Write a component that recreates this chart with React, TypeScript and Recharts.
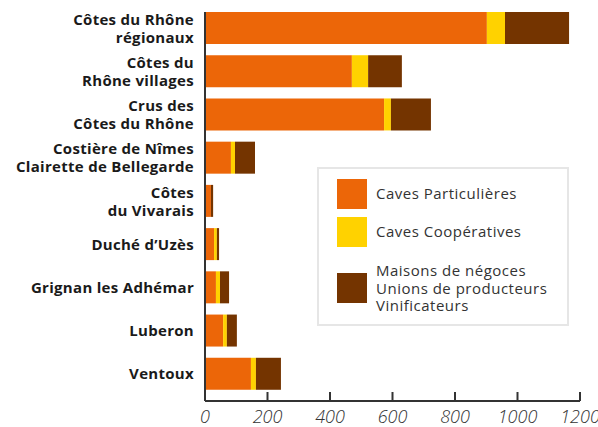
import { BarChart, Bar, XAxis, YAxis } from "recharts";

const categories = [
  "Côtes du Rhône\nrégionaux",
  "Côtes du\nRhône villages",
  "Crus des\nCôtes du Rhône",
  "Costière de Nîmes\nClairette de Bellegarde",
  "Côtes\ndu Vivarais",
  "Duché d’Uzès",
  "Grignan les Adhémar",
  "Luberon",
  "Ventoux",
];
const cavesParticulieres = [902, 470, 573, 83, 19, 29, 35, 58, 147];
const cavesCooperatives = [58, 52, 22, 13, 0, 9, 13, 12, 16];
const maisons = [205, 108, 128, 64, 7, 7, 29, 32, 80];
const xTicks = [0, 200, 400, 600, 800, 1000, 1200];

const data = categories.map((name, i) => ({
  name,
  particulieres: cavesParticulieres[i],
  cooperatives: cavesCooperatives[i],
  maisons: maisons[i],
}));

const ORANGE = "#EC6608";
const YELLOW = "#FFD200";
const BROWN = "#743400";

const legendItems = [
  { color: ORANGE, lines: ["Caves Particulières"] },
  { color: YELLOW, lines: ["Caves Coopératives"] },
  { color: BROWN, lines: ["Maisons de négoces", "Unions de producteurs", "Vinificateurs"] },
];

function CategoryTick(props: any) {
  const { x, y, payload } = props;
  const lines = String(payload.value).split("\n");
  const lh = 18;
  const start = y - ((lines.length - 1) * lh) / 2;
  return (
    <text
      x={x - 11}
      y={start}
      textAnchor="end"
      dominantBaseline="central"
      fill="#1a1a1a"
      fontSize={15}
      fontWeight={700}
      fontFamily="Open Sans"
      letterSpacing={0.3}
    >
      {lines.map((l, i) => (
        <tspan key={i} x={x - 11} y={start + i * lh}>
          {l}
        </tspan>
      ))}
    </text>
  );
}

function ValueTick(props: any) {
  const { x, y, payload } = props;
  return (
    <g>
      <line x1={x} y1={y - 9} x2={x} y2={y} stroke="#333" strokeWidth={2} />
      <text
        x={x}
        y={y + 22}
        textAnchor="middle"
        fill="#333"
        fontSize={18}
        fontStyle="italic"
        fontWeight={300}
        fontFamily="Open Sans"
      >
        {payload.value}
      </text>
    </g>
  );
}

function LegendBox() {
  const tops = [10, 48, 93];
  return (
    <div
      style={{
        position: "absolute",
        left: 317,
        top: 167,
        width: 252,
        height: 159,
        boxSizing: "border-box",
        border: "2px solid #e6e6e6",
        background: "#fff",
        fontFamily: "Open Sans",
        fontSize: 15,
        letterSpacing: 0.5,
        color: "#333",
      }}
    >
      {legendItems.map((item, i) => (
        <div key={i} style={{ position: "absolute", left: 18, top: tops[i], display: "flex", alignItems: "center" }}>
          <div style={{ width: 30, height: 30, background: item.color, flexShrink: 0 }} />
          <div style={{ marginLeft: 9, lineHeight: "17.5px" }}>
            {item.lines.map((l, j) => (
              <div key={j} style={{ whiteSpace: "nowrap" }}>{l}</div>
            ))}
          </div>
        </div>
      ))}
    </div>
  );
}

export default function App() {
  return (
    <div style={{ position: "absolute", left: 0, top: 0, width: 598, height: 427, background: "#fff" }}>
      <BarChart
        width={598}
        height={427}
        data={data}
        layout="vertical"
        margin={{ top: 12, right: 18, bottom: 0, left: 0 }}
      >
        <XAxis
          type="number"
          domain={[0, 1200]}
          ticks={xTicks}
          height={26}
          tickLine={false}
          tickSize={0}
          tickMargin={0}
          axisLine={{ stroke: "#333", strokeWidth: 2 }}
          tick={<ValueTick />}
          interval={0}
        />
        <YAxis
          type="category"
          dataKey="name"
          width={205}
          padding={{ top: -6, bottom: 6 }}
          tickLine={false}
          tickSize={0}
          tickMargin={0}
          axisLine={{ stroke: "#333", strokeWidth: 2 }}
          tick={<CategoryTick />}
          interval={0}
        />
        <Bar dataKey="particulieres" stackId="a" fill={ORANGE} barSize={32} isAnimationActive={false} />
        <Bar dataKey="cooperatives" stackId="a" fill={YELLOW} barSize={32} isAnimationActive={false} />
        <Bar dataKey="maisons" stackId="a" fill={BROWN} barSize={32} isAnimationActive={false} />
      </BarChart>
      <LegendBox />
    </div>
  );
}
